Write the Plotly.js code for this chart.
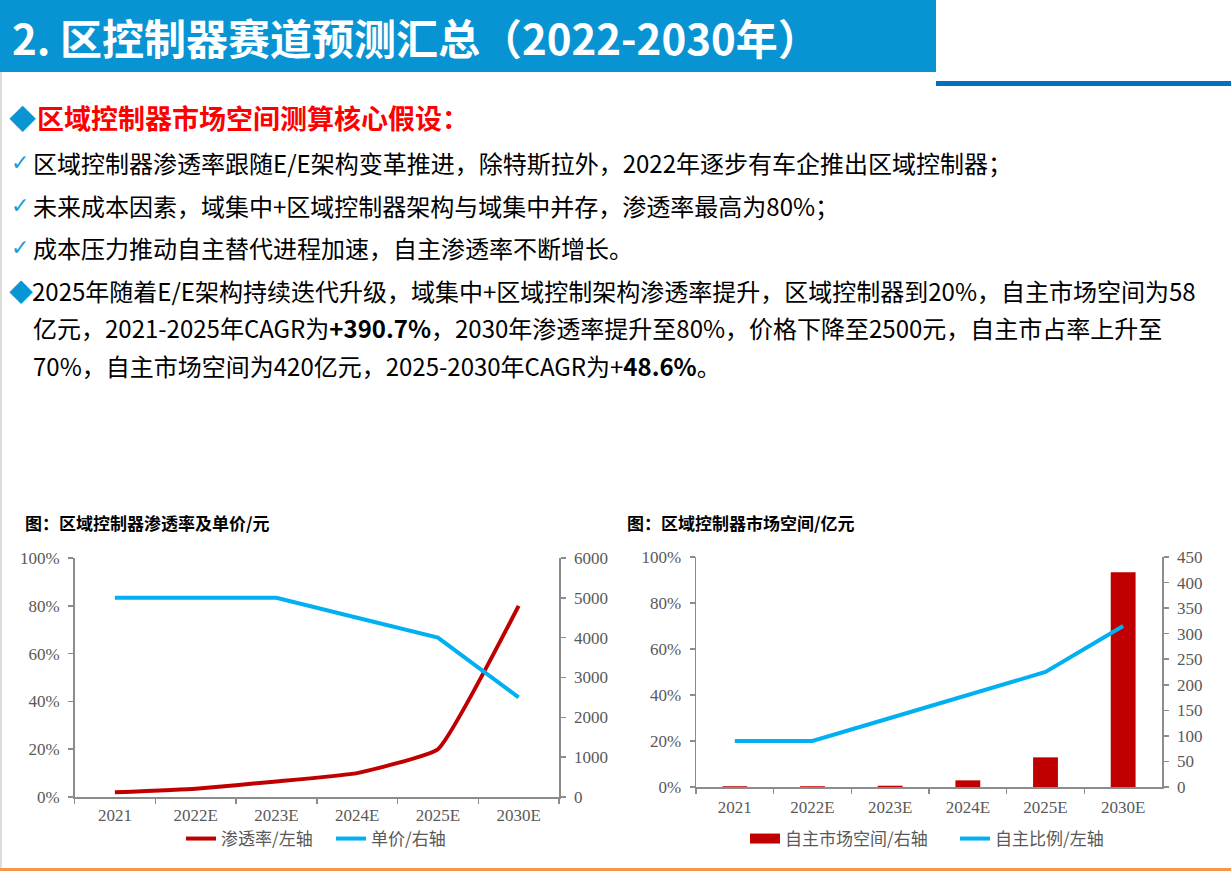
<!DOCTYPE html>
<html>
<head>
<meta charset="utf-8">
<script src="https://cdn.plot.ly/plotly-3.0.1.min.js"></script>
<style>
html,body{margin:0;padding:0;background:#fff;}
#page{position:relative;width:1231px;height:871px;overflow:hidden;background:#fff;font-family:"Noto Sans CJK SC","Noto Sans",sans-serif;}
.abs{position:absolute;white-space:nowrap;line-height:1;}
.blue{color:#0795D4;}
.chk{font-family:"DejaVu Sans",sans-serif;font-size:22px;color:#1E9AD6;}
.body{font-size:24px;color:#000;}
</style>
</head>
<body>
<div id="page">
  <div id="chart" style="position:absolute;left:0;top:0;width:1231px;height:871px;"></div>

  <div class="abs" style="left:0;top:0;width:936px;height:72px;background:#0894D3;"></div>
  <div class="abs" style="left:936px;top:81px;width:295px;height:5px;background:#0070C0;"></div>
  <div class="abs" style="left:0;top:72px;width:2px;height:799px;background:#DCDCDC;"></div>
  <div class="abs" style="left:0;top:868px;width:1231px;height:3px;background:#F79646;"></div>

  <div class="abs" style="left:12px;top:16px;font-size:42px;font-weight:bold;color:#fff;">2. 区控制器赛道预测汇总（2022-2030年）</div>

  <div class="abs blue" style="left:9px;top:104px;font-size:27px;">◆</div>
  <div class="abs" style="left:37px;top:104px;font-size:27px;font-weight:bold;color:#FF0000;">区域控制器市场空间测算核心假设：</div>

  <div class="abs chk" style="left:11px;top:152px;">✓</div>
  <div class="abs body" style="left:33px;top:151px;">区域控制器渗透率跟随E/E架构变革推进，除特斯拉外，2022年逐步有车企推出区域控制器；</div>

  <div class="abs chk" style="left:11px;top:195px;">✓</div>
  <div class="abs body" style="left:33px;top:194px;">未来成本因素，域集中+区域控制器架构与域集中并存，渗透率最高为80%；</div>

  <div class="abs chk" style="left:11px;top:237px;">✓</div>
  <div class="abs body" style="left:33px;top:236px;">成本压力推动自主替代进程加速，自主渗透率不断增长。</div>

  <div class="abs blue" style="left:9px;top:279px;font-size:24px;">◆</div>
  <div class="abs body" style="left:32px;top:279px;">2025年随着E/E架构持续迭代升级，域集中+区域控制架构渗透率提升，区域控制器到20%，自主市场空间为58</div>
  <div class="abs body" style="left:33px;top:316px;">亿元，2021-2025年CAGR为<b>+390.7%</b>，2030年渗透率提升至80%，价格下降至2500元，自主市占率上升至</div>
  <div class="abs body" style="left:33px;top:354px;">70%，自主市场空间为420亿元，2025-2030年CAGR为+<b>48.6%</b>。</div>
</div>

<script>
// ---- data ----
const categories = ['2021', '2022E', '2023E', '2024E', '2025E', '2030E'];
const penetrationRate = [0.02, 0.035, 0.065, 0.10, 0.20, 0.80];   // 渗透率/左轴
const unitPrice = [5000, 5000, 5000, 4500, 4000, 2500];             // 单价/右轴 (元)
const domesticMarket = [1.5, 1.5, 2.5, 13, 58, 420];                // 自主市场空间/右轴 (亿元)
const domesticShare = [0.20, 0.20, 0.30, 0.40, 0.50, 0.70];         // 自主比例/左轴
const pctTicks = [0, 0.2, 0.4, 0.6, 0.8, 1.0];

// ---- style ----
const W = 1231, H = 871;
const px = v => v / W;
const py = v => 1 - v / H;
const RED = '#C00000', BLUE = '#00B0F0', AX = '#8C8C8C';
const tickFont = {family: 'Liberation Serif, Times New Roman, serif', size: 17, color: '#595959'};
const legFont = {family: 'Noto Sans CJK SC, sans-serif', size: 17, color: '#595959'};

function xAxis(domain, anchor, standoff) {
  return {domain: domain, anchor: anchor, type: 'category', tickson: 'boundaries',
    range: [-0.5, categories.length - 0.5],
    ticks: 'outside', ticklen: 5, tickwidth: 1.5, tickcolor: AX, ticklabelstandoff: standoff,
    showline: true, linecolor: AX, linewidth: 1.5, showgrid: false, zeroline: false,
    tickfont: tickFont, fixedrange: true};
}
function yAxis(extra) {
  return Object.assign({ticks: 'outside', ticklen: 5, tickwidth: 1.5, tickcolor: AX,
    ticklabelstandoff: 5,
    showline: true, linecolor: AX, linewidth: 1.5, showgrid: false, zeroline: false,
    tickfont: tickFont, fixedrange: true}, extra);
}
function legendAt(xPx, yPx) {
  return {orientation: 'h', x: px(xPx), xanchor: 'left', y: py(yPx), yanchor: 'middle',
    font: legFont, bgcolor: 'rgba(0,0,0,0)', itemwidth: 30};
}

const traces = [
  {type: 'scatter', mode: 'lines', name: '渗透率/左轴', x: categories, y: penetrationRate,
   xaxis: 'x', yaxis: 'y', line: {color: RED, width: 4, shape: 'spline', smoothing: 0.35}, legend: 'legend'},
  {type: 'scatter', mode: 'lines', name: '单价/右轴', x: categories, y: unitPrice,
   xaxis: 'x', yaxis: 'y2', line: {color: BLUE, width: 4}, legend: 'legend3'},

  {type: 'bar', name: '自主市场空间/右轴', x: categories, y: domesticMarket,
   xaxis: 'x2', yaxis: 'y3', marker: {color: RED}, showlegend: false, legendgroup: 'mkt'},
  {type: 'scatter', mode: 'lines', name: '自主市场空间/右轴', x: [null], y: [null],
   xaxis: 'x2', yaxis: 'y3', line: {color: RED, width: 10}, legend: 'legend2', legendgroup: 'mkt'},
  {type: 'scatter', mode: 'lines', name: '自主比例/左轴', x: categories, y: domesticShare,
   xaxis: 'x2', yaxis: 'y4', line: {color: BLUE, width: 4}, legend: 'legend4'}
];

const layout = {
  width: W, height: H, margin: {l: 0, r: 0, t: 0, b: 0},
  paper_bgcolor: 'rgba(0,0,0,0)', plot_bgcolor: 'rgba(0,0,0,0)',
  font: tickFont,
  bargap: 0.68,
  xaxis: xAxis([px(74.5), px(559)], 'y', 2),
  yaxis: yAxis({domain: [py(797), py(558)], anchor: 'x', side: 'left', range: [0, 1],
    tickvals: pctTicks, tickformat: '.0%'}),
  yaxis2: yAxis({overlaying: 'y', anchor: 'x', side: 'right', range: [0, 6000], dtick: 1000}),
  xaxis2: xAxis([px(696), px(1162)], 'y3', 4),
  yaxis3: yAxis({domain: [py(787), py(557)], anchor: 'x2', side: 'right', range: [0, 450], dtick: 50}),
  yaxis4: yAxis({overlaying: 'y3', anchor: 'x2', side: 'left', range: [0, 1],
    tickvals: pctTicks, tickformat: '.0%'}),
  legend: legendAt(181, 839),
  legend3: legendAt(331, 839),
  legend2: legendAt(745, 839),
  legend4: legendAt(955, 839),
  annotations: [
    {text: '<b>图：区域控制器渗透率及单价/元</b>', xref: 'paper', yref: 'paper',
     x: px(23), y: py(522), xanchor: 'left', yanchor: 'middle', showarrow: false,
     font: {family: 'Noto Sans CJK SC, sans-serif', size: 17, color: '#000'}},
    {text: '<b>图：区域控制器市场空间/亿元</b>', xref: 'paper', yref: 'paper',
     x: px(625), y: py(522), xanchor: 'left', yanchor: 'middle', showarrow: false,
     font: {family: 'Noto Sans CJK SC, sans-serif', size: 17, color: '#000'}}
  ]
};

Plotly.newPlot('chart', traces, layout, {displayModeBar: false, staticPlot: true});
</script>
</body>
</html>
